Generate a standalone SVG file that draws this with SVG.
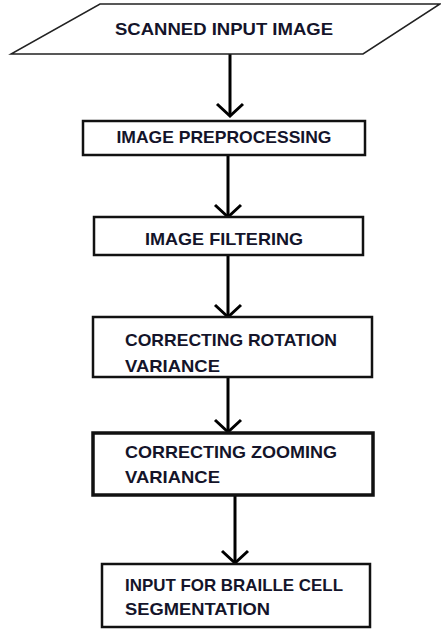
<svg xmlns="http://www.w3.org/2000/svg" width="441" height="630" viewBox="0 0 441 630">
  <style>
    .box { fill: #fff; stroke: #111; stroke-width: 2.5; }
    .thick { stroke-width: 3.5; }
    .io { fill: #fff; stroke: #222; stroke-width: 1.5; }
    .lbl { font-family: "Liberation Sans", Arial, sans-serif; font-weight: bold; font-size: 17px; fill: #14142a; }
    .mid { text-anchor: middle; }
    .edge { stroke: #000; stroke-width: 3; fill: none; }
    .head { stroke: #000; stroke-width: 3; fill: none; stroke-linejoin: miter; }
  </style>
  <rect width="441" height="630" fill="#fff"/>

  <g id="connectors">
    <line class="edge" x1="230" y1="54" x2="230" y2="115"/>
    <polyline class="head" points="217,104 230,116 243,104"/>
    <line class="edge" x1="228" y1="155" x2="228" y2="216"/>
    <polyline class="head" points="215,205 228,217 241,205"/>
    <line class="edge" x1="228" y1="255" x2="228" y2="316"/>
    <polyline class="head" points="215,305 228,317 241,305"/>
    <line class="edge" x1="228" y1="377" x2="228" y2="431"/>
    <polyline class="head" points="215,420 228,432 241,420"/>
    <line class="edge" x1="235" y1="495" x2="235" y2="562"/>
    <polyline class="head" points="222,551 235,563 248,551"/>
  </g>

  <g id="scanned-input">
    <polygon class="io" points="100,4 440,4 363,54 11,54"/>
    <text class="lbl mid" x="224" y="35" textLength="218" lengthAdjust="spacingAndGlyphs">SCANNED INPUT IMAGE</text>
  </g>

  <g id="preprocessing">
    <rect class="box" x="83" y="121" width="282" height="34"/>
    <text class="lbl mid" x="224" y="143" textLength="215" lengthAdjust="spacingAndGlyphs">IMAGE PREPROCESSING</text>
  </g>

  <g id="filtering">
    <rect class="box" x="94" y="217" width="269" height="38"/>
    <text class="lbl mid" x="224" y="245" textLength="158" lengthAdjust="spacingAndGlyphs">IMAGE FILTERING</text>
  </g>

  <g id="rotation">
    <rect class="box" x="93" y="317" width="279" height="60"/>
    <text class="lbl" x="125" y="346" textLength="212" lengthAdjust="spacingAndGlyphs">CORRECTING ROTATION</text>
    <text class="lbl" x="125" y="372" textLength="95" lengthAdjust="spacingAndGlyphs">VARIANCE</text>
  </g>

  <g id="zooming">
    <rect class="box thick" x="93" y="433" width="280" height="62"/>
    <text class="lbl" x="125" y="458" textLength="212" lengthAdjust="spacingAndGlyphs">CORRECTING ZOOMING</text>
    <text class="lbl" x="125" y="483" textLength="95" lengthAdjust="spacingAndGlyphs">VARIANCE</text>
  </g>

  <g id="segmentation">
    <rect class="box" x="102" y="564" width="268" height="63"/>
    <text class="lbl" x="125" y="591" textLength="218" lengthAdjust="spacingAndGlyphs">INPUT FOR BRAILLE CELL</text>
    <text class="lbl" x="125" y="615" textLength="145" lengthAdjust="spacingAndGlyphs">SEGMENTATION</text>
  </g>
</svg>
